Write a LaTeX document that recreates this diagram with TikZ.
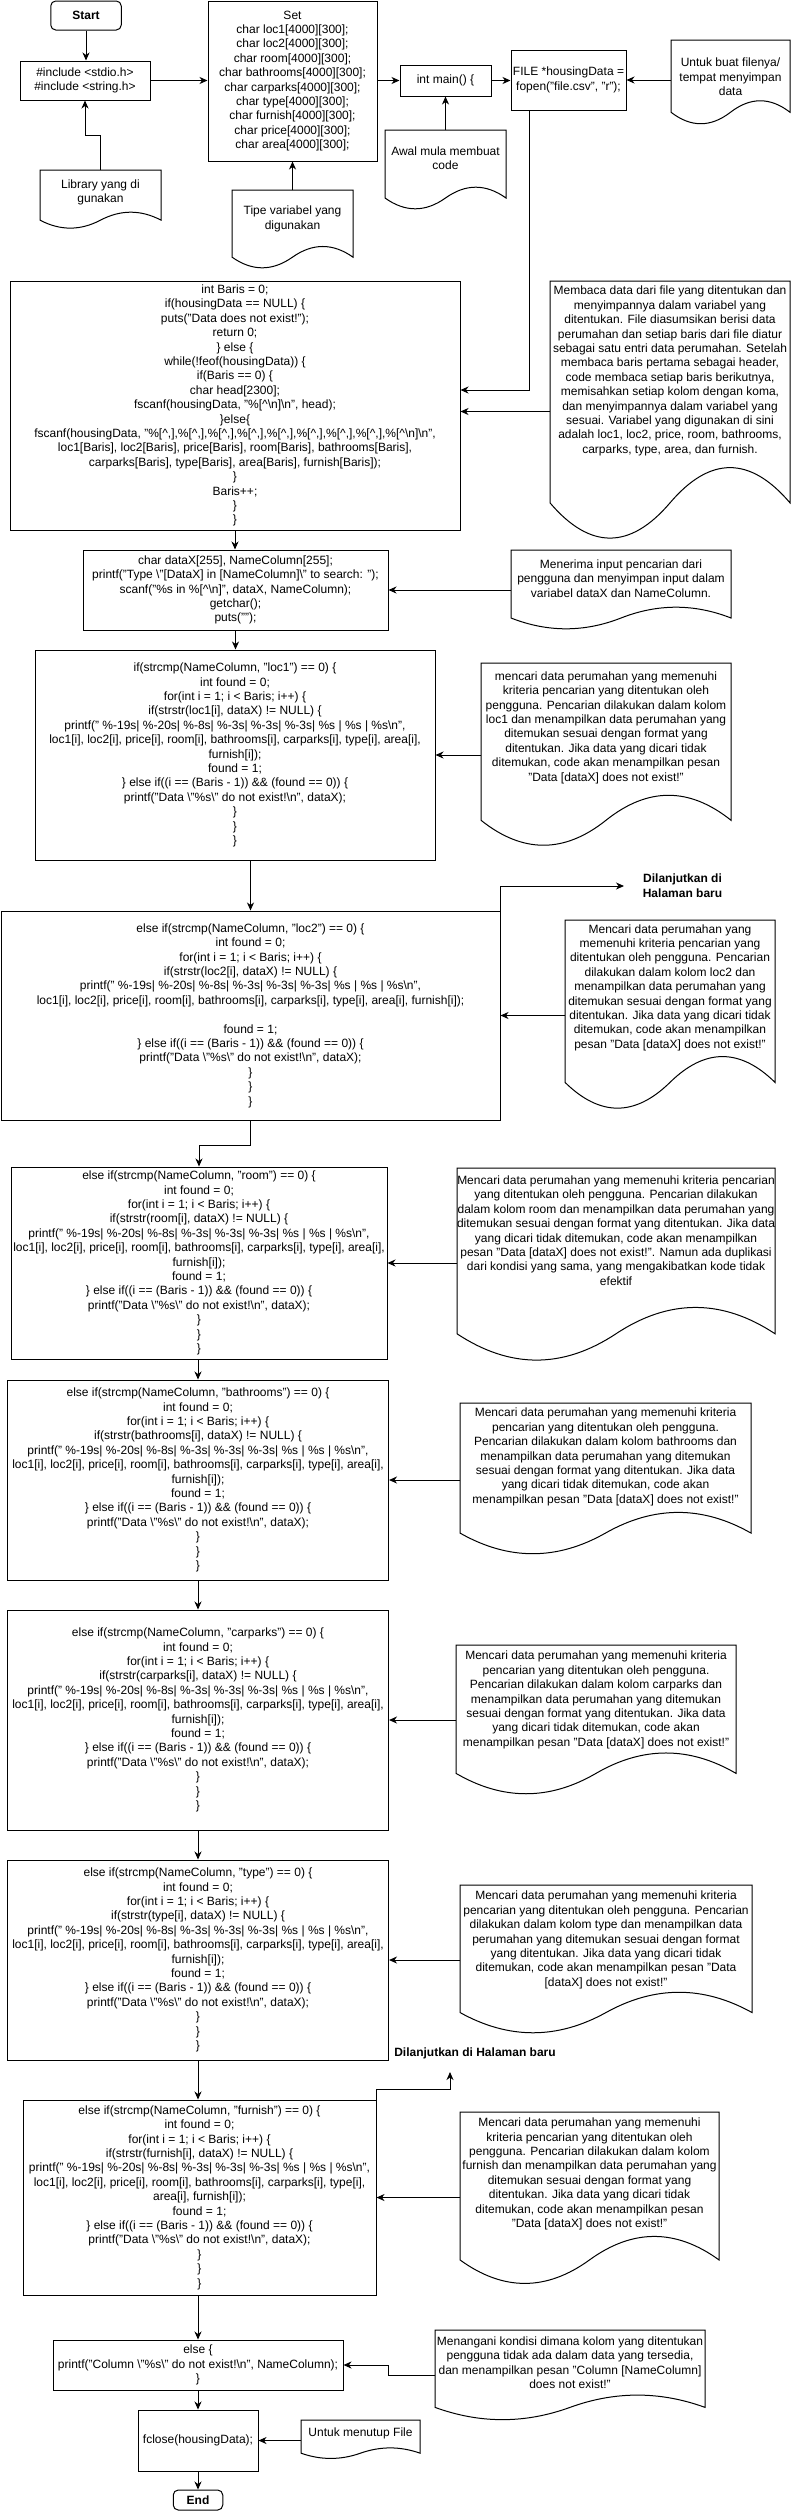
\documentclass[tikz,border=0pt]{standalone}
\usepackage{fontspec}
\setmainfont{Liberation Sans}
\usetikzlibrary{arrows.meta,calc}
\newcommand{\bsl}{\textbackslash}
\newcommand{\crt}{\textasciicircum}
\newcommand{\pc}{\%[\crt,]}
\newcommand{\pfl}{printf(" \%-19s| \%-20s| \%-8s| \%-3s| \%-3s| \%-3s| \%s | \%s | \%s\bsl n",}
\newcommand{\nfl}{printf("Data \bsl"\%s\bsl" do not exist!\bsl n", dataX);}
\newcommand{\elifl}{\} else if((i == (Baris - 1)) \&\& (found == 0)) \{}
\tikzset{
 base/.style={font=\fontsize{12}{14.4}\selectfont, align=center, inner sep=0pt},
 blk/.style={base, draw, line width=1pt},
 term/.style={blk, rounded corners=5pt, font=\fontsize{12}{14.4}\selectfont\bfseries},
 txt/.style={base},
 boldtxt/.style={base, font=\fontsize{12}{14.4}\selectfont\bfseries},
 docbox/.style={inner sep=0pt, outer sep=0pt},
 arr/.style={line width=1pt, -{Stealth[length=8pt,width=7pt,inset=2.5pt]}},
 wline/.style={line width=1pt},
}
\newcommand{\mydoc}[7]{%
 \node[docbox, minimum width=#4pt, minimum height=#5pt, anchor=north west] (#1) at (#2,#3) {};
 \draw[wline] (#2,#3) -- ({#2+#4},#3) -- ({#2+#4},{#3+0.85*#5})
   .. controls ({#2+0.8333*#4},{#3+0.67*#5}) and ({#2+0.6667*#4},{#3+0.67*#5}) .. ({#2+0.5*#4},{#3+0.85*#5})
   .. controls ({#2+0.3333*#4},{#3+1.03*#5}) and ({#2+0.1667*#4},{#3+1.03*#5}) .. (#2,{#3+0.85*#5}) -- cycle;
 \node[txt] (#1t) at ({#2+0.5*#4},#6) {#7};
}
\begin{document}
\begin{tikzpicture}[x=1pt,y=-1pt]
\fill[white] (0,0) rectangle (791,2511);
\useasboundingbox (0,0) rectangle (791,2511);

% ---- top row
\node[term, minimum width=70.5pt, minimum height=29pt] (start) at (86,15.5) {Start};
\node[blk, minimum width=130pt, minimum height=39pt] (inc) at (85,80.5) {\#include <stdio.h>\\\#include <string.h>};
\node[blk, minimum width=169pt, minimum height=160pt] (set) at (292.5,81) {Set\\char loc1[4000][300];\\char loc2[4000][300];\\char room[4000][300];\\char bathrooms[4000][300];\\char carparks[4000][300];\\char type[4000][300];\\char furnish[4000][300];\\char price[4000][300];\\char area[4000][300];};
\node[blk, minimum width=91pt, minimum height=31pt] (main) at (445.5,80.5) {int main() \{};
\node[blk, minimum width=115pt, minimum height=60pt] (file) at (568.5,80) {FILE *housingData =\\fopen("file.csv", "r");};

\mydoc{lib}{40}{170}{121}{59}{192.5}{Library yang di\\gunakan}
\mydoc{tipe}{232}{190}{121}{79}{219}{Tipe variabel yang\\digunakan}
\mydoc{awal}{385}{130}{121}{80}{158}{Awal mula membuat\\code}
\mydoc{untuk}{671}{40}{119}{85}{77}{Untuk buat filenya/\\tempat menyimpan\\data}

% ---- reading block
\node[blk, minimum width=450pt, minimum height=249pt] (baris) at (235,405.5) {int Baris = 0;\\if(housingData == NULL) \{\\puts("Data does not exist!");\\return 0;\\\} else \{\\while(!feof(housingData)) \{\\if(Baris == 0) \{\\char head[2300];\\fscanf(housingData, "\%[\crt\bsl n]\bsl n", head);\\\}else\{\\fscanf(housingData, "\pc,\pc,\pc,\pc,\pc,\pc,\pc,\pc,\%[\crt\bsl n]\bsl n",\\loc1[Baris], loc2[Baris], price[Baris], room[Baris], bathrooms[Baris],\\carparks[Baris], type[Baris], area[Baris], furnish[Baris]);\\\}\\Baris++;\\\}\\\}};
\mydoc{membaca}{550}{281}{240}{261}{371}{Membaca data dari file yang ditentukan dan\\menyimpannya dalam variabel yang\\ditentukan. File diasumsikan berisi data\\perumahan dan setiap baris dari file diatur\\sebagai satu entri data perumahan. Setelah\\membaca baris pertama sebagai header,\\code membaca setiap baris berikutnya,\\memisahkan setiap kolom dengan koma,\\dan menyimpannya dalam variabel yang\\sesuai. Variabel yang digunakan di sini\\adalah loc1, loc2, price, room, bathrooms,\\carparks, type, area, dan furnish.}

\node[blk, minimum width=305pt, minimum height=80pt] (datax) at (235.5,590) {char dataX[255], NameColumn[255];\\printf("Type \bsl"[DataX] in [NameColumn]\bsl" to search: ");\\scanf("\%s in \%[\crt\bsl n]", dataX, NameColumn);\\getchar();\\puts("");};
\mydoc{menerima}{511}{550}{220}{80}{578.5}{Menerima input pencarian dari\\pengguna dan menyimpan input dalam\\variabel dataX dan NameColumn.}

% ---- loc1
\node[blk, minimum width=400pt, minimum height=210pt] (loc1) at (235,755) {if(strcmp(NameColumn, "loc1") == 0) \{\\int found = 0;\\for(int i = 1; i < Baris; i++) \{\\if(strstr(loc1[i], dataX) != NULL) \{\\\pfl\\loc1[i], loc2[i], price[i], room[i], bathrooms[i], carparks[i], type[i], area[i],\\furnish[i]);\\found = 1;\\\elifl\\\nfl\\\}\\\}\\\}};
\mydoc{dA}{481}{663}{250}{185}{727.5}{mencari data perumahan yang memenuhi\\kriteria pencarian yang ditentukan oleh\\pengguna. Pencarian dilakukan dalam kolom\\loc1 dan menampilkan data perumahan yang\\ditemukan sesuai dengan format yang\\ditentukan. Jika data yang dicari tidak\\ditemukan, code akan menampilkan pesan\\"Data [dataX] does not exist!"}

% ---- loc2
\node[blk, minimum width=499pt, minimum height=209pt] (loc2) at (250.5,1015.5) {else if(strcmp(NameColumn, "loc2") == 0) \{\\int found = 0;\\for(int i = 1; i < Baris; i++) \{\\if(strstr(loc2[i], dataX) != NULL) \{\\\pfl\\loc1[i], loc2[i], price[i], room[i], bathrooms[i], carparks[i], type[i], area[i], furnish[i]);\\\mbox{}\\found = 1;\\\elifl\\\nfl\\\}\\\}\\\}};
\mydoc{dB}{565}{920}{210}{191}{987.5}{Mencari data perumahan yang\\memenuhi kriteria pencarian yang\\ditentukan oleh pengguna. Pencarian\\dilakukan dalam kolom loc2 dan\\menampilkan data perumahan yang\\ditemukan sesuai dengan format yang\\ditentukan. Jika data yang dicari tidak\\ditemukan, code akan menampilkan\\pesan "Data [dataX] does not exist!"}
\coordinate (c1) at (624,886);
\node[boldtxt] (dl1) at (682.5,885.5) {Dilanjutkan di\\Halaman baru};

% ---- room
\node[blk, minimum width=376pt, minimum height=192pt] (room) at (199,1263) {else if(strcmp(NameColumn, "room") == 0) \{\\int found = 0;\\for(int i = 1; i < Baris; i++) \{\\if(strstr(room[i], dataX) != NULL) \{\\\pfl\\loc1[i], loc2[i], price[i], room[i], bathrooms[i], carparks[i], type[i], area[i],\\furnish[i]);\\found = 1;\\\elifl\\\nfl\\\}\\\}\\\}};
\mydoc{dC}{457}{1168}{318}{195}{1230.5}{Mencari data perumahan yang memenuhi kriteria pencarian\\yang ditentukan oleh pengguna. Pencarian dilakukan\\dalam kolom room dan menampilkan data perumahan yang\\ditemukan sesuai dengan format yang ditentukan. Jika data\\yang dicari tidak ditemukan, code akan menampilkan\\pesan "Data [dataX] does not exist!". Namun ada duplikasi\\dari kondisi yang sama, yang mengakibatkan kode tidak\\efektif}

% ---- bathrooms
\node[blk, minimum width=381pt, minimum height=200pt] (bath) at (198,1480) {else if(strcmp(NameColumn, "bathrooms") == 0) \{\\int found = 0;\\for(int i = 1; i < Baris; i++) \{\\if(strstr(bathrooms[i], dataX) != NULL) \{\\\pfl\\loc1[i], loc2[i], price[i], room[i], bathrooms[i], carparks[i], type[i], area[i],\\furnish[i]);\\found = 1;\\\elifl\\\nfl\\\}\\\}\\\}};
\mydoc{dD}{460}{1403}{291}{153}{1457}{Mencari data perumahan yang memenuhi kriteria\\pencarian yang ditentukan oleh pengguna.\\Pencarian dilakukan dalam kolom bathrooms dan\\menampilkan data perumahan yang ditemukan\\sesuai dengan format yang ditentukan. Jika data\\yang dicari tidak ditemukan, code akan\\menampilkan pesan "Data [dataX] does not exist!"}

% ---- carparks
\node[blk, minimum width=381pt, minimum height=220pt] (carp) at (198,1720) {else if(strcmp(NameColumn, "carparks") == 0) \{\\int found = 0;\\for(int i = 1; i < Baris; i++) \{\\if(strstr(carparks[i], dataX) != NULL) \{\\\pfl\\loc1[i], loc2[i], price[i], room[i], bathrooms[i], carparks[i], type[i], area[i],\\furnish[i]);\\found = 1;\\\elifl\\\nfl\\\}\\\}\\\}};
\mydoc{dE}{456}{1645}{280}{151}{1700}{Mencari data perumahan yang memenuhi kriteria\\pencarian yang ditentukan oleh pengguna.\\Pencarian dilakukan dalam kolom carparks dan\\menampilkan data perumahan yang ditemukan\\sesuai dengan format yang ditentukan. Jika data\\yang dicari tidak ditemukan, code akan\\menampilkan pesan "Data [dataX] does not exist!"}

% ---- type
\node[blk, minimum width=381pt, minimum height=200pt] (type) at (198,1960) {else if(strcmp(NameColumn, "type") == 0) \{\\int found = 0;\\for(int i = 1; i < Baris; i++) \{\\if(strstr(type[i], dataX) != NULL) \{\\\pfl\\loc1[i], loc2[i], price[i], room[i], bathrooms[i], carparks[i], type[i], area[i],\\furnish[i]);\\found = 1;\\\elifl\\\nfl\\\}\\\}\\\}};
\mydoc{dF}{460}{1885}{292}{150}{1940}{Mencari data perumahan yang memenuhi kriteria\\pencarian yang ditentukan oleh pengguna. Pencarian\\dilakukan dalam kolom type dan menampilkan data\\perumahan yang ditemukan sesuai dengan format\\yang ditentukan. Jika data yang dicari tidak\\ditemukan, code akan menampilkan pesan "Data\\{}[dataX] does not exist!"}
\coordinate (c2) at (450,2072);
\node[boldtxt] (dl2) at (475,2053) {Dilanjutkan di Halaman baru};

% ---- furnish
\node[blk, minimum width=353pt, minimum height=195pt] (furn) at (199.5,2197.5) {else if(strcmp(NameColumn, "furnish") == 0) \{\\int found = 0;\\for(int i = 1; i < Baris; i++) \{\\if(strstr(furnish[i], dataX) != NULL) \{\\\pfl\\loc1[i], loc2[i], price[i], room[i], bathrooms[i], carparks[i], type[i],\\area[i], furnish[i]);\\found = 1;\\\elifl\\\nfl\\\}\\\}\\\}};
\mydoc{dG}{460}{2112}{259}{174}{2174}{Mencari data perumahan yang memenuhi\\kriteria pencarian yang ditentukan oleh\\pengguna. Pencarian dilakukan dalam kolom\\furnish dan menampilkan data perumahan yang\\ditemukan sesuai dengan format yang\\ditentukan. Jika data yang dicari tidak\\ditemukan, code akan menampilkan pesan\\"Data [dataX] does not exist!"}

% ---- else / fclose / end
\node[blk, minimum width=290pt, minimum height=50pt] (els) at (198,2365) {else \{\\printf("Column \bsl"\%s\bsl" do not exist!\bsl n", NameColumn);\\\}};
\mydoc{dH}{435}{2330}{270}{91}{2362.5}{Menangani kondisi dimana kolom yang ditentukan\\pengguna tidak ada dalam data yang tersedia,\\dan menampilkan pesan "Column [NameColumn]\\does not exist!"}
\node[blk, minimum width=120pt, minimum height=61pt] (fcl) at (198,2440.5) {fclose(housingData);};
\mydoc{dI}{301}{2420}{119}{39}{2433}{Untuk menutup File}
\node[term, minimum width=49.5pt, minimum height=20pt] (endn) at (198,2500) {End};

% ---- connectors
\draw[arr] (start.south) -- (start.south |- inc.north);
\draw[arr] (inc.east) -- (inc.east -| set.west);
\draw[arr] (set.east |- main.west) -- (main.west);
\draw[arr] (main.east) -- (main.east -| file.west);
\draw[arr] (untuk.west |- file.east) -- (file.east);
\draw[arr] (lib.north) |- ($(inc.south)+(0,35)$) -- (inc.south);
\draw[arr] (tipe.north) -- (tipe.north |- set.south);
\draw[arr] (awal.north) -- (awal.north |- main.south);
\draw[arr] ($(file.south west)+(19,0)$) |- ($(baris.east)+(0,-15.5)$);
\draw[arr] (membaca.west) -- (membaca.west -| baris.east);
\draw[arr] (baris.south) -- (baris.south |- datax.north);
\draw[arr] (menerima.west |- datax.east) -- (datax.east);
\draw[arr] (datax.south) -- (datax.south |- loc1.north);
\draw[arr] (dA.west |- loc1.east) -- (loc1.east);
\draw[arr] (loc1.south -| loc2.north) -- (loc2.north);
\draw[arr] (loc2.north east) |- (c1);
\draw[arr] (dB.west |- loc2.east) -- (loc2.east);
\draw[arr] (loc2.south) -- ++(0,25) -| (room.north);
\draw[arr] (dC.west |- room.east) -- (room.east);
\draw[arr] (room.south -| bath.north) -- (bath.north);
\draw[arr] (dD.west |- bath.east) -- (bath.east);
\draw[arr] (bath.south) -- (bath.south |- carp.north);
\draw[arr] (dE.west |- carp.east) -- (carp.east);
\draw[arr] (carp.south) -- (carp.south |- type.north);
\draw[arr] (dF.west |- type.east) -- (type.east);
\draw[arr] (type.south) -- (type.south |- furn.north);
\draw[arr] (furn.north east) -- ++(0,-10) -| (c2);
\draw[arr] (dG.west |- furn.east) -- (furn.east);
\draw[arr] (furn.south -| els.north) -- (els.north);
\draw[arr] (dH.west) -- ++(-46.5,0) |- (els.east);
\draw[arr] (els.south) -- (els.south |- fcl.north);
\draw[arr] (dI.west |- fcl.east) -- (fcl.east);
\draw[arr] (fcl.south) -- (fcl.south |- endn.north);
\end{tikzpicture}
\end{document}
